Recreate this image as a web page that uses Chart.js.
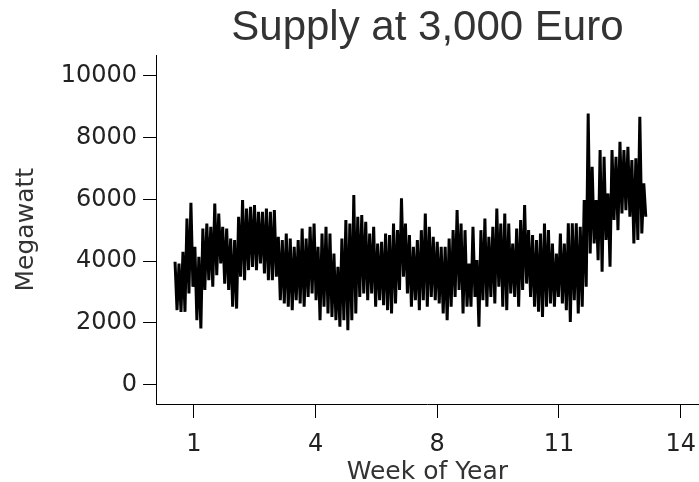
<!DOCTYPE html>
<html>
<head>
<meta charset="utf-8">
<script src="https://cdn.jsdelivr.net/npm/chart.js@4"></script>
<style>
  html, body { margin: 0; padding: 0; background: #fff; }
  #wrap { width: 699px; height: 482px; }
</style>
</head>
<body>
<div id="wrap"><canvas id="c" width="699" height="482"></canvas></div>
<script>
// Tick labels (week of year) at equally spaced axis positions
const weekTickLabels = ['1', '4', '8', '11', '14'];
const weekTickPositions = [0, 1, 2, 3, 4];
const yTicks = [0, 2000, 4000, 6000, 8000, 10000];

// First and last sample on the axis (axis units, tick i = weekTickLabels[i])
const sampleSpan = [-0.154, 3.713];

const highs = [
  3975, 3920, 4300, 5380, 5890, 4460, 4140, 5050, 5215, 5110, 5865,
  5540, 5110, 5050, 4730, 4680, 5430, 5975, 5700, 5760, 5810, 5595,
  5595, 5700, 5595, 5650, 4785, 4680, 4890, 4730, 4460, 4680, 5050, 4730, 5110,
  5215, 4460, 4890, 5110, 4890, 4245, 3810, 4730, 5325, 5215, 6135, 5430,
  5490, 5270, 4890, 5110, 4570, 4620, 4890, 4840, 5215, 5000, 6030, 5215,
  4840, 4460, 4680, 5000, 5540, 5110, 4785, 4620, 4460, 4460, 4730, 5000,
  5650, 5215, 5000, 3920, 5110, 4030, 5000, 5380, 4785, 5110, 5700, 5215,
  5540, 5215, 4570, 5050, 5325, 5810, 5000, 4840, 4680, 4890, 5215, 5000,
  4570, 4245, 4894, 4570, 5220, 5220, 5220, 5110, 5975, 8780, 7055, 5975,
  7595, 7380, 6190, 7595, 7380, 7865, 7595, 7700, 7270, 7325, 8675, 6515
];
const lows = [
  2410, 2355, 2355, 2950, 3165, 2085, 1815, 3060, 3380, 3165, 3540,
  3920, 3270, 3060, 2520, 2460, 3490, 3380, 3705, 3810, 3705, 3920,
  3600, 3380, 3380, 3490, 2735, 2625, 2520, 2410, 2735, 2625, 2520, 2840, 2950,
  2735, 2085, 2520, 2300, 2190, 2085, 1870, 2085, 1760, 2085, 2300, 2840,
  2950, 2735, 2950, 2520, 2735, 2570, 2410, 2300, 2625, 3060, 3490, 2950,
  2520, 2735, 2410, 2735, 2520, 2840, 2735, 2625, 2300, 2085, 2520, 2840,
  3060, 2300, 2520, 2520, 2840, 1870, 2735, 2520, 2840, 2625, 3165, 2520,
  2410, 2950, 2840, 2520, 3060, 3270, 2840, 2520, 2355, 2190, 2520, 2625,
  2520, 2840, 2625, 2410, 2030, 2735, 2300, 2520, 3165, 4245, 4570, 4030,
  3650, 4680, 3815, 5330, 5000, 5540, 5650, 5435, 4570, 4680, 4894, 5435
];

// Build the series: high then low within each column
const series = [];
highs.forEach((h, i) => { series.push(h); series.push(lows[i]); });
const n = series.length;
const pts = series.map((v, k) => ({
  x: sampleSpan[0] + k * (sampleSpan[1] - sampleSpan[0]) / (n - 1),
  y: v
}));

const tickFont = { family: 'DejaVu Sans', size: 24 };

new Chart(document.getElementById('c'), {
  type: 'line',
  data: {
    datasets: [{
      data: pts,
      borderColor: '#000',
      borderWidth: 3,
      borderJoinStyle: 'bevel',
      pointRadius: 0,
      tension: 0,
      fill: false
    }]
  },
  options: {
    responsive: false,
    animation: false,
    events: [],
    layout: { padding: 0 },
    plugins: {
      legend: { display: false },
      tooltip: { enabled: false },
      title: {
        display: true,
        text: 'Supply at 3,000 Euro',
        fullSize: false,
        color: '#333',
        font: { family: 'Liberation Sans', size: 42, weight: 'normal', lineHeight: 1.2 },
        padding: { top: 3, bottom: 2 }
      }
    },
    scales: {
      x: {
        type: 'linear',
        min: -0.31,
        max: 4.148,
        afterBuildTicks: (s) => { s.ticks = weekTickPositions.map(v => ({ value: v })); },
        ticks: {
          autoSkip: false,
          maxRotation: 0,
          padding: 3,
          color: '#222',
          font: { family: 'DejaVu Sans', size: 24, lineHeight: '48px' },
          callback: (v) => weekTickLabels[weekTickPositions.indexOf(v)]
        },
        grid: { drawOnChartArea: false, drawTicks: true, tickLength: 14, color: '#000', lineWidth: 1 },
        border: { display: true, color: '#000', width: 1 },
        title: {
          display: true,
          text: 'Week of Year',
          color: '#333',
          font: { family: 'DejaVu Sans', size: 25, lineHeight: '16px' },
          padding: { top: -8, bottom: 2 }
        }
      },
      y: {
        min: -630,
        max: 10660,
        afterBuildTicks: (s) => { s.ticks = yTicks.map(v => ({ value: v })); },
        ticks: {
          padding: 6,
          color: '#222',
          font: tickFont,
          callback: (v) => String(v)
        },
        grid: { drawOnChartArea: false, drawTicks: true, tickLength: 13, color: '#000', lineWidth: 1 },
        border: { display: true, color: '#000', width: 1 },
        title: {
          display: true,
          text: 'Megawatt',
          color: '#333',
          font: { family: 'DejaVu Sans', size: 25, lineHeight: 1.2 },
          padding: { top: 11, bottom: 13.7 }
        }
      }
    }
  }
});
</script>
</body>
</html>
